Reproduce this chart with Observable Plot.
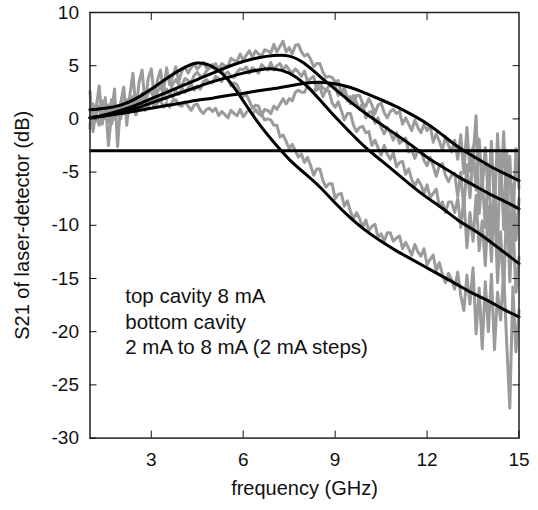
<!DOCTYPE html>
<html><head><meta charset="utf-8">
<script src="https://cdn.jsdelivr.net/npm/d3@7"></script>
<script src="https://cdn.jsdelivr.net/npm/@observablehq/plot@0.6"></script>
<style>body{margin:0;background:#fff}#chart svg{display:block}</style>
</head><body><div id="chart"></div>
<script>
// Axis ticks
const xTicks = [3, 6, 9, 12, 15];
const xTicksTop = [3, 6, 9, 12];
const yTicks = [-30, -25, -20, -15, -10, -5, 0, 5, 10];
const yTicksRight = [-25, -20, -15, -10, -5, 0, 5];
const threeDb = -3;

// Fitted (black) curves, read every 0.5 GHz
const fitFreq = [1,1.5,2,2.5,3,3.5,4,4.5,5,5.5,6,6.5,7,7.5,8,8.5,9,9.5,10,10.5,11,11.5,12,12.5,13,13.5,14,14.5,15];
const fit2mA = [0.85,1.0,1.3,1.9,2.8,3.8,4.7,5.25,4.9,3.7,1.7,-0.4,-2.2,-3.8,-5.1,-6.4,-7.9,-9.3,-10.5,-11.5,-12.4,-13.2,-14.0,-14.8,-15.6,-16.4,-17.1,-17.9,-18.6];
const fit4mA = [0.1,0.3,0.6,1.0,1.5,2.0,2.5,3.0,3.5,3.9,4.3,4.6,4.7,4.3,3.3,1.8,0.2,-1.3,-2.7,-3.9,-5.1,-6.3,-7.4,-8.4,-9.5,-10.4,-11.4,-12.5,-13.6];
const fit6mA = [0.1,0.4,0.8,1.3,1.9,2.5,3.1,3.7,4.3,4.9,5.4,5.75,5.95,5.9,5.2,4.0,2.8,1.6,0.5,-0.5,-1.5,-2.5,-3.6,-4.5,-5.4,-6.2,-7.0,-7.7,-8.45];
const fit8mA = [0.1,0.3,0.5,0.75,1.0,1.25,1.5,1.75,1.95,2.2,2.4,2.65,2.85,3.1,3.35,3.45,3.3,2.95,2.4,1.8,1.15,0.4,-0.45,-1.5,-2.6,-3.5,-4.35,-5.1,-5.8];

// Measured (gray) curves, read every 0.1 GHz from 1.0 to 15.0 GHz
const measFreq = d3.range(141).map(i => +(1 + i * 0.1).toFixed(1));
const meas2mA = [
  2.6,-1.2,1.0,3.1,-0.5,2.0,-2.5,0.4,2.8,-2.6,
  1.5,3.0,-0.6,2.2,4.3,0.8,3.4,4.6,1.3,3.8,
  4.7,2.0,3.6,4.6,2.6,4.8,3.2,4.0,4.9,3.5,
  4.5,4.9,4.3,4.8,5.2,4.7,5.0,5.3,4.8,5.0,
  5.1,4.5,4.6,4.7,3.8,3.8,3.1,3.4,3.2,2.5,
  2.1,2.3,1.7,1.0,1.3,1.2,0.4,-0.1,0.0,-0.1,
  -0.6,-0.6,-1.7,-1.5,-2.1,-2.8,-2.4,-3.0,-3.6,-3.3,
  -4.1,-3.6,-4.4,-5.3,-4.7,-4.7,-5.8,-6.4,-6.1,-6.1,
  -7.5,-7.1,-7.0,-8.2,-7.7,-8.7,-9.4,-8.8,-9.4,-10.2,
  -9.5,-10.5,-10.1,-9.9,-11.1,-10.8,-11.5,-10.7,-10.7,-11.5,
  -11.2,-11.0,-12.2,-11.6,-12.2,-12.8,-11.8,-12.5,-12.9,-12.2,
  -13.7,-13.2,-12.8,-14.3,-13.5,-14.6,-15.4,-14.5,-15.1,-16.0,
  -14.4,-16.6,-18.0,-14.7,-17.4,-14.0,-20.2,-15.9,-21.6,-15.3,
  -20.0,-14.6,-21.7,-16.3,-18.9,-14.5,-21.1,-27.2,-15.8,-21.9,-18.0
];
const meas4mA = [
  -0.9,1.4,0.2,-0.6,1.7,0.5,-0.3,1.8,0.0,1.2,
  0.0,1.6,0.5,2.0,1.2,0.4,2.1,1.0,2.3,1.1,
  1.9,1.3,2.1,1.6,2.4,1.8,2.5,2.0,2.7,2.3,
  2.9,2.5,2.9,3.3,2.7,3.1,2.8,3.5,3.7,3.4,
  3.4,4.0,3.8,3.5,4.2,4.4,4.0,3.9,4.4,4.7,
  4.6,4.9,4.3,4.8,4.6,4.3,5.1,4.8,4.6,5.3,
  4.6,5.0,5.2,4.6,5.0,4.6,4.3,4.7,4.4,4.0,
  4.5,3.5,3.8,4.0,2.7,3.0,2.1,2.7,2.6,1.5,
  1.1,1.6,0.8,-0.1,0.5,0.5,-0.6,-1.2,-0.8,-0.7,
  -1.3,-1.2,-2.5,-2.0,-2.7,-3.4,-2.5,-3.3,-3.8,-3.2,
  -4.5,-4.1,-4.0,-5.2,-4.7,-5.7,-6.3,-5.7,-6.2,-7.0,
  -6.2,-7.4,-7.0,-6.6,-8.2,-7.8,-8.8,-7.8,-7.8,-8.8,
  -7.5,-10.2,-7.4,-12.1,-8.8,-11.5,-7.2,-12.4,-9.6,-13.8,
  -8.2,-13.4,-7.2,-15.4,-10.6,-16.4,-7.6,-15.3,-9.5,-16.3,-13.0
];
const meas6mA = [
  0.9,-0.5,0.4,1.2,-0.2,0.6,1.3,-0.1,1.0,0.3,
  1.5,0.5,1.8,1.0,2.1,1.3,1.7,2.4,1.5,2.5,
  2.5,1.9,2.5,3.1,2.3,2.8,2.3,3.3,3.7,3.2,
  3.2,3.8,3.6,3.4,4.1,4.4,4.0,4.0,4.5,4.8,
  4.8,5.2,4.6,5.2,5.0,4.9,5.7,5.5,5.4,6.1,
  5.5,6.0,6.4,5.8,6.4,6.1,5.9,6.5,6.4,6.2,
  7.0,6.3,6.8,7.3,6.3,6.7,6.1,6.9,7.0,6.3,
  5.9,6.1,5.6,4.9,5.2,5.2,4.4,3.9,4.0,3.9,
  3.5,3.6,2.3,2.8,2.1,1.4,2.2,1.5,0.9,1.5,
  0.1,0.6,0.7,-0.4,0.1,-0.8,-1.4,-0.8,-1.3,-2.0,
  -1.3,-2.3,-2.0,-1.8,-3.1,-2.9,-3.7,-3.0,-3.0,-3.9,
  -4.4,-3.6,-4.4,-5.4,-4.4,-4.2,-5.3,-5.9,-5.3,-5.1,
  -7.3,-5.0,-8.6,-4.3,-7.4,-3.6,0.3,-8.9,-5.5,-10.2,
  -4.3,-10.9,-6.0,-11.7,-3.3,-10.4,-3.0,-12.6,-6.2,-11.4,-7.5
];
const meas8mA = [
  -0.6,1.2,0.4,-0.3,1.0,0.0,1.3,-0.5,0.7,1.1,
  0.2,1.3,0.5,1.0,1.6,0.4,1.2,1.8,0.8,1.5,
  1.6,1.1,1.5,1.8,1.1,1.5,1.1,1.7,1.8,1.3,
  1.2,1.6,1.2,0.8,1.3,1.4,0.8,0.5,0.9,1.0,
  0.7,1.0,0.3,0.7,0.4,0.1,0.8,0.5,0.3,0.9,
  0.2,0.6,0.9,0.4,0.9,0.5,0.3,0.9,0.8,0.5,
  1.2,0.9,1.4,1.9,1.4,1.9,1.7,2.5,2.7,2.5,
  2.5,3.1,2.8,2.5,3.1,3.4,2.9,2.7,3.1,3.3,
  3.1,2.2,2.6,2.9,1.7,2.1,1.4,2.2,2.2,1.4,
  1.2,1.9,1.3,0.5,1.3,1.5,0.6,0.1,0.7,0.9,
  0.5,0.7,-0.5,0.1,-0.5,-1.1,-0.1,-0.8,-1.3,-0.5,
  -1.1,-0.6,-2.2,-1.4,-2.1,-2.9,-1.7,-2.5,-3.1,-2.0,
  -3.8,-1.5,-5.1,-0.8,-4.9,-2.6,-6.7,-1.9,-6.5,-2.7,
  -7.4,-2.1,-8.7,-1.4,-7.0,-1.2,-8.9,-3.5,-10.2,-2.8,-6.5
];

const seriesNames = ["2 mA", "4 mA", "6 mA", "8 mA"];
const fits = [fit2mA, fit4mA, fit6mA, fit8mA];
const meas = [meas2mA, meas4mA, meas6mA, meas8mA];

const fitRows = fits.flatMap((vals, s) => vals.map((v, i) => ({series: seriesNames[s], f: fitFreq[i], v})));
const measRows = meas.flatMap((vals, s) => vals.map((v, i) => ({series: seriesNames[s], f: measFreq[i], v})));

const annotation = ["top cavity 8 mA", "bottom cavity", "2 mA to 8 mA (2 mA steps)"];
const annotX = 2.15;
const annotY = -15.6;

const font = "'Liberation Sans', Arial, Helvetica, sans-serif";

const chart = Plot.plot({
  width: 538,
  height: 510,
  marginLeft: 89.5,
  marginRight: 19.5,
  marginTop: 12,
  marginBottom: 72.4,
  style: {fontFamily: font, fontSize: "19px", color: "#111", background: "#fff"},
  x: {domain: [1, 15]},
  y: {domain: [-30, 10]},
  marks: [
    Plot.line(measRows, {x: "f", y: "v", z: "series", stroke: "#9b9b9b", strokeWidth: 3, strokeLinejoin: "round"}),
    Plot.line(fitRows, {x: "f", y: "v", z: "series", stroke: "#000", strokeWidth: 3, curve: "natural"}),
    Plot.ruleY([threeDb], {stroke: "#000", strokeWidth: 3}),
    Plot.frame({stroke: "#222", strokeWidth: 1.5}),
    Plot.axisX(xTicks, {anchor: "bottom", tickSize: -7, tickPadding: 21, label: null, fontSize: 19, tickFormat: d => String(d)}),
    Plot.axisX(xTicksTop, {anchor: "top", tickSize: -7, label: null, tickFormat: () => ""}),
    Plot.axisY(yTicks, {anchor: "left", tickSize: -7, tickPadding: 18, label: null, fontSize: 19, tickFormat: d => String(d)}),
    Plot.axisY(yTicksRight, {anchor: "right", tickSize: -7, label: null, tickFormat: () => ""}),
    Plot.text(["frequency (GHz)"], {frameAnchor: "bottom", dy: 57, fontSize: 20, fill: "#111"}),
    Plot.text(["S21 of laser-detector (dB)"], {frameAnchor: "left", textAnchor: "middle", dx: -67, rotate: -90, fontSize: 20, fill: "#111"}),
    Plot.text([annotation.join("\n")], {x: annotX, y: annotY, textAnchor: "start", lineAnchor: "top", lineHeight: 1.25, fontSize: 20.5, fill: "#111"})
  ]
});
document.getElementById("chart").appendChild(chart);
</script>
</body></html>
